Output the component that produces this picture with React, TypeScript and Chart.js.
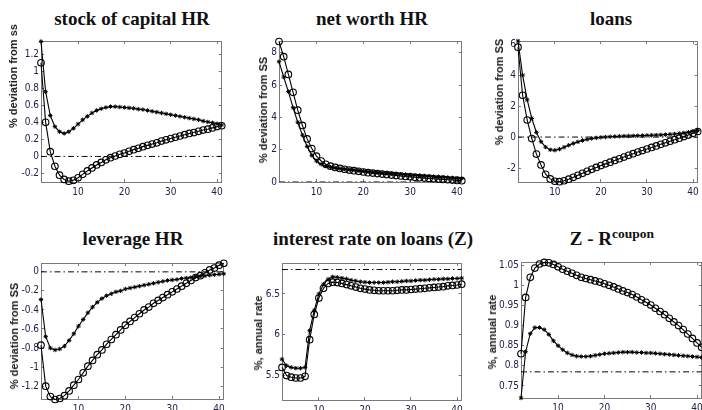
import React, { useEffect, useRef } from "react";
import { Chart, registerables } from "chart.js";
Chart.register(...registerables);

// ---------- data ----------
const periods = [2, 3, 4, 5, 6, 7, 8, 9, 10, 11, 12, 13, 14, 15, 16, 17, 18, 19, 20, 21, 22, 23, 24, 25, 26, 27, 28, 29, 30, 31, 32, 33, 34, 35, 36, 37, 38, 39, 40, 41];
const xTicks = [10, 20, 30, 40];

const capitalStar = [1.35, 0.76, 0.48, 0.35, 0.29, 0.27, 0.29, 0.33, 0.38, 0.43, 0.47, 0.51, 0.54, 0.56, 0.575, 0.585, 0.585, 0.58, 0.575, 0.57, 0.565, 0.555, 0.55, 0.54, 0.53, 0.52, 0.51, 0.5, 0.49, 0.48, 0.47, 0.46, 0.45, 0.44, 0.43, 0.415, 0.405, 0.395, 0.385, 0.37];
const capitalCirc = [1.1, 0.4, 0.056, -0.115, -0.22, -0.27, -0.29, -0.28, -0.25, -0.21, -0.17, -0.135, -0.1, -0.07, -0.04, -0.015, 0.005, 0.025, 0.04, 0.06, 0.08, 0.095, 0.115, 0.13, 0.145, 0.16, 0.18, 0.195, 0.21, 0.225, 0.24, 0.255, 0.27, 0.28, 0.295, 0.31, 0.32, 0.335, 0.35, 0.36];
const capitalTicks = [-0.2, 0, 0.2, 0.4, 0.6, 0.8, 1, 1.2];

const worthStar = [7.45, 6.5, 5.6, 4.6, 3.7, 2.9, 2.2, 1.65, 1.3, 1.1, 0.98, 0.92, 0.87, 0.83, 0.8, 0.77, 0.74, 0.71, 0.68, 0.65, 0.62, 0.6, 0.57, 0.55, 0.52, 0.5, 0.48, 0.46, 0.44, 0.42, 0.4, 0.38, 0.36, 0.34, 0.32, 0.3, 0.28, 0.26, 0.24, 0.22];
const worthCirc = [8.7, 7.76, 6.66, 5.55, 4.45, 3.5, 2.67, 2.07, 1.6, 1.3, 1.1, 0.98, 0.9, 0.84, 0.79, 0.74, 0.7, 0.66, 0.62, 0.58, 0.55, 0.52, 0.49, 0.46, 0.43, 0.4, 0.37, 0.34, 0.32, 0.29, 0.27, 0.24, 0.22, 0.2, 0.18, 0.16, 0.14, 0.12, 0.1, 0.08];
const worthTicks = [0, 2, 4, 6, 8];

const loansStar = [6.2, 4.0, 2.4, 1.2, 0.3, -0.3, -0.65, -0.82, -0.85, -0.78, -0.66, -0.53, -0.41, -0.31, -0.22, -0.15, -0.09, -0.05, -0.02, 0.0, 0.02, 0.04, 0.05, 0.06, 0.07, 0.08, 0.09, 0.1, 0.11, 0.12, 0.13, 0.14, 0.16, 0.18, 0.2, 0.23, 0.27, 0.31, 0.36, 0.42];
const loansCirc = [5.8, 2.7, 1.1, -0.1, -1.1, -1.8, -2.4, -2.7, -2.85, -2.88, -2.82, -2.72, -2.6, -2.47, -2.34, -2.21, -2.08, -1.96, -1.84, -1.73, -1.62, -1.51, -1.4, -1.29, -1.18, -1.07, -0.97, -0.87, -0.77, -0.67, -0.57, -0.47, -0.37, -0.27, -0.17, -0.07, 0.03, 0.13, 0.24, 0.36];
const loansTicks = [-2, 0, 2, 4, 6];

const leverageStar = [-0.29, -0.68, -0.8, -0.82, -0.81, -0.78, -0.72, -0.65, -0.57, -0.5, -0.43, -0.37, -0.32, -0.28, -0.25, -0.23, -0.21, -0.2, -0.18, -0.17, -0.16, -0.15, -0.14, -0.13, -0.12, -0.11, -0.1, -0.09, -0.085, -0.08, -0.07, -0.065, -0.06, -0.05, -0.045, -0.04, -0.035, -0.03, -0.025, -0.02];
const leverageCirc = [-0.77, -1.2, -1.31, -1.34, -1.33, -1.3, -1.25, -1.19, -1.13, -1.06, -0.99, -0.93, -0.87, -0.82, -0.76, -0.71, -0.66, -0.61, -0.56, -0.52, -0.48, -0.44, -0.4, -0.37, -0.33, -0.3, -0.27, -0.24, -0.21, -0.18, -0.15, -0.12, -0.09, -0.06, -0.04, -0.01, 0.02, 0.04, 0.07, 0.09];
const leverageTicks = [-1.2, -1, -0.8, -0.6, -0.4, -0.2, 0];

const rateStar = [5.7, 5.62, 5.6, 5.59, 5.59, 5.6, 6.05, 6.3, 6.5, 6.62, 6.68, 6.71, 6.705, 6.695, 6.685, 6.67, 6.66, 6.65, 6.645, 6.64, 6.64, 6.64, 6.64, 6.645, 6.65, 6.65, 6.655, 6.66, 6.66, 6.665, 6.67, 6.67, 6.675, 6.68, 6.68, 6.685, 6.685, 6.69, 6.69, 6.695];
const rateCirc = [5.6, 5.5, 5.48, 5.47, 5.47, 5.49, 5.94, 6.25, 6.45, 6.57, 6.63, 6.645, 6.64, 6.63, 6.615, 6.6, 6.585, 6.57, 6.56, 6.55, 6.545, 6.54, 6.54, 6.54, 6.54, 6.545, 6.55, 6.55, 6.555, 6.56, 6.565, 6.57, 6.575, 6.58, 6.585, 6.59, 6.6, 6.605, 6.61, 6.62];
const rateTicks = [5.5, 6, 6.5];

const spreadStar = [0.72, 0.835, 0.88, 0.895, 0.895, 0.89, 0.878, 0.862, 0.85, 0.84, 0.832, 0.827, 0.824, 0.823, 0.823, 0.824, 0.826, 0.828, 0.83, 0.831, 0.832, 0.833, 0.834, 0.834, 0.834, 0.833, 0.833, 0.832, 0.832, 0.831, 0.83, 0.829, 0.828, 0.827, 0.826, 0.825, 0.824, 0.823, 0.822, 0.821];
const spreadCirc = [0.83, 0.97, 1.02, 1.043, 1.053, 1.057, 1.056, 1.052, 1.046, 1.04, 1.035, 1.03, 1.025, 1.02, 1.017, 1.014, 1.011, 1.008, 1.004, 1.0, 0.996, 0.991, 0.986, 0.982, 0.977, 0.971, 0.964, 0.958, 0.951, 0.943, 0.935, 0.927, 0.918, 0.909, 0.9, 0.89, 0.879, 0.868, 0.857, 0.846];
const spreadTicks = [0.75, 0.8, 0.85, 0.9, 0.95, 1, 1.05];

const steadyStates = [0, 0, 0, 0, 6.8, 0.785];

// ---------- layout ----------
type Box = { l: number; t: number; r: number; b: number };
type PanelCfg = {
  title: React.ReactNode;
  titleCx: number;
  titleTop: number;
  ylabel: string;
  ylabX: number;
  ylabY: number;
  star: number[];
  circ: number[];
  ss: number;
  yMin: number;
  yMax: number;
  yTicks: number[];
  box: Box;
};

const panels: PanelCfg[] = [
  { title: "stock of capital HR", titleCx: 132, titleTop: 9, ylabel: "% deviation from ss", ylabX: 13, ylabY: 76,
    star: capitalStar, circ: capitalCirc, ss: steadyStates[0], yMin: -0.3, yMax: 1.355, yTicks: capitalTicks,
    box: { l: 41, t: 34, r: 224, b: 182 } },
  { title: "net worth HR", titleCx: 372, titleTop: 9, ylabel: "% deviation from SS", ylabX: 263, ylabY: 110,
    star: worthStar, circ: worthCirc, ss: steadyStates[1], yMin: 0, yMax: 8.73, yTicks: worthTicks,
    box: { l: 279, t: 34, r: 464, b: 182 } },
  { title: "loans", titleCx: 611, titleTop: 9, ylabel: "% deviation from SS", ylabX: 499, ylabY: 92,
    star: loansStar, circ: loansCirc, ss: steadyStates[2], yMin: -2.9, yMax: 6.2, yTicks: loansTicks,
    box: { l: 518, t: 34, r: 700, b: 182 } },
  { title: "leverage HR", titleCx: 133, titleTop: 229, ylabel: "% deviation from SS", ylabX: 14, ylabY: 336,
    star: leverageStar, circ: leverageCirc, ss: steadyStates[3], yMin: -1.335, yMax: 0.093, yTicks: leverageTicks,
    box: { l: 41, t: 256, r: 226, b: 399 } },
  { title: "interest rate on loans (Z)", titleCx: 373, titleTop: 229, ylabel: "%, annual rate", ylabX: 258, ylabY: 333,
    star: rateStar, circ: rateCirc, ss: steadyStates[4], yMin: 5.2, yMax: 6.88, yTicks: rateTicks,
    box: { l: 282, t: 256, r: 464, b: 400 } },
  { title: (<span>Z - R<span style={{ fontSize: "13.5px", position: "relative", top: "-7px" }}>coupon</span></span>),
    titleCx: 612, titleTop: 229, ylabel: "%, annual rate", ylabX: 492, ylabY: 332,
    star: spreadStar, circ: spreadCirc, ss: steadyStates[5], yMin: 0.72, yMax: 1.058, yTicks: spreadTicks,
    box: { l: 521, t: 255, r: 704, b: 398 } },
];

const PAD_L = 40, PAD_R = 6, PAD_T = 4, PAD_B = 20;
const FRAME = "#7a7a7a";
const TICK_FONT = { family: "'DejaVu Sans Condensed', 'Liberation Sans', Arial, sans-serif", size: 10, weight: "normal" as const };
const TICK_COLOR = "#22224a";
const TITLE_FONT = "'Liberation Serif', 'Times New Roman', Times, serif";

function fmt(v: number): string {
  const r = Math.round(v * 1000) / 1000;
  return String(r);
}

function PanelChart({ p }: { p: PanelCfg }) {
  const ref = useRef<HTMLCanvasElement>(null);
  const w = p.box.r - p.box.l + PAD_L + PAD_R;
  const h = p.box.b - p.box.t + PAD_T + PAD_B;

  useEffect(() => {
    if (!ref.current) return;
    const setX = (s: any) => { s.ticks = xTicks.map((v) => ({ value: v })); };
    const setY = (s: any) => { s.ticks = p.yTicks.map((v) => ({ value: v })); };
    const gridOpts = { drawOnChartArea: false, drawTicks: true, tickLength: -3, color: FRAME, tickColor: FRAME, lineWidth: 1 };
    const borderOpts = { display: true, color: FRAME, width: 1 };
    const chart = new Chart(ref.current, {
      type: "line",
      data: {
        datasets: [
          {
            data: periods.map((x) => ({ x, y: p.ss })),
            borderColor: "#000",
            borderWidth: 1,
            borderDash: [6, 3, 1.5, 3],
            pointRadius: 0,
          },
          {
            data: periods.map((x, i) => ({ x, y: p.star[i] })),
            borderColor: "#000",
            borderWidth: 1.1,
            pointStyle: "star",
            pointRadius: 2.2,
            pointBorderWidth: 1,
            pointBorderColor: "#000",
            pointBackgroundColor: "#000",
            clip: false,
          },
          {
            data: periods.map((x, i) => ({ x, y: p.circ[i] })),
            borderColor: "#000",
            borderWidth: 1.1,
            pointStyle: "circle",
            pointRadius: 3.3,
            pointBorderWidth: 1.1,
            pointBorderColor: "#000",
            pointBackgroundColor: "rgba(0,0,0,0)",
            clip: false,
          },
        ],
      },
      options: {
        animation: false,
        responsive: false,
        maintainAspectRatio: false,
        events: [],
        layout: { padding: 0 },
        plugins: { legend: { display: false }, tooltip: { enabled: false }, title: { display: false } },
        scales: {
          x: {
            type: "linear", position: "bottom", min: 2, max: 41,
            afterBuildTicks: setX,
            afterFit: (s: any) => { s.height = PAD_B; },
            grid: gridOpts, border: borderOpts,
            ticks: { font: TICK_FONT, color: TICK_COLOR, padding: 7, maxRotation: 0, autoSkip: false, callback: (v: any) => fmt(Number(v)) },
          },
          xTop: {
            type: "linear", position: "top", min: 2, max: 41,
            afterBuildTicks: setX,
            afterFit: (s: any) => { s.height = PAD_T; },
            grid: gridOpts, border: borderOpts,
            ticks: { display: false },
          },
          y: {
            type: "linear", position: "left", min: p.yMin, max: p.yMax,
            afterBuildTicks: setY,
            afterFit: (s: any) => { s.width = PAD_L; },
            grid: gridOpts, border: borderOpts,
            ticks: { font: TICK_FONT, color: TICK_COLOR, padding: 5, autoSkip: false, callback: (v: any) => fmt(Number(v)) },
          },
          yRight: {
            type: "linear", position: "right", min: p.yMin, max: p.yMax,
            afterBuildTicks: setY,
            afterFit: (s: any) => { s.width = PAD_R; },
            grid: gridOpts, border: borderOpts,
            ticks: { display: false },
          },
        },
      } as any,
    });
    return () => chart.destroy();
  }, [p]);

  return (
    <canvas
      ref={ref}
      width={w}
      height={h}
      style={{ position: "absolute", left: p.box.l - PAD_L, top: p.box.t - PAD_T, width: w, height: h }}
    />
  );
}

export default function App() {
  return (
    <div style={{ position: "fixed", left: 0, top: 0, width: 702, height: 410, overflow: "hidden", background: "#fff" }}>
      {panels.map((p, i) => (
        <React.Fragment key={i}>
          <PanelChart p={p} />
          <div
            style={{
              position: "absolute", left: p.titleCx - 160, width: 320, top: p.titleTop, textAlign: "center",
              fontFamily: TITLE_FONT, fontWeight: "bold", fontSize: "19px",
              lineHeight: "19px", color: "#111", whiteSpace: "nowrap",
            }}
          >
            {p.title}
          </div>
          <div
            style={{
              position: "absolute", left: p.ylabX, top: p.ylabY, transform: "translate(-50%, -50%) rotate(-90deg)",
              fontFamily: "'Liberation Sans', Arial, sans-serif", fontWeight: "bold", fontSize: "11px",
              color: "#222", whiteSpace: "nowrap", lineHeight: "12px",
            }}
          >
            {p.ylabel}
          </div>
        </React.Fragment>
      ))}
    </div>
  );
}
